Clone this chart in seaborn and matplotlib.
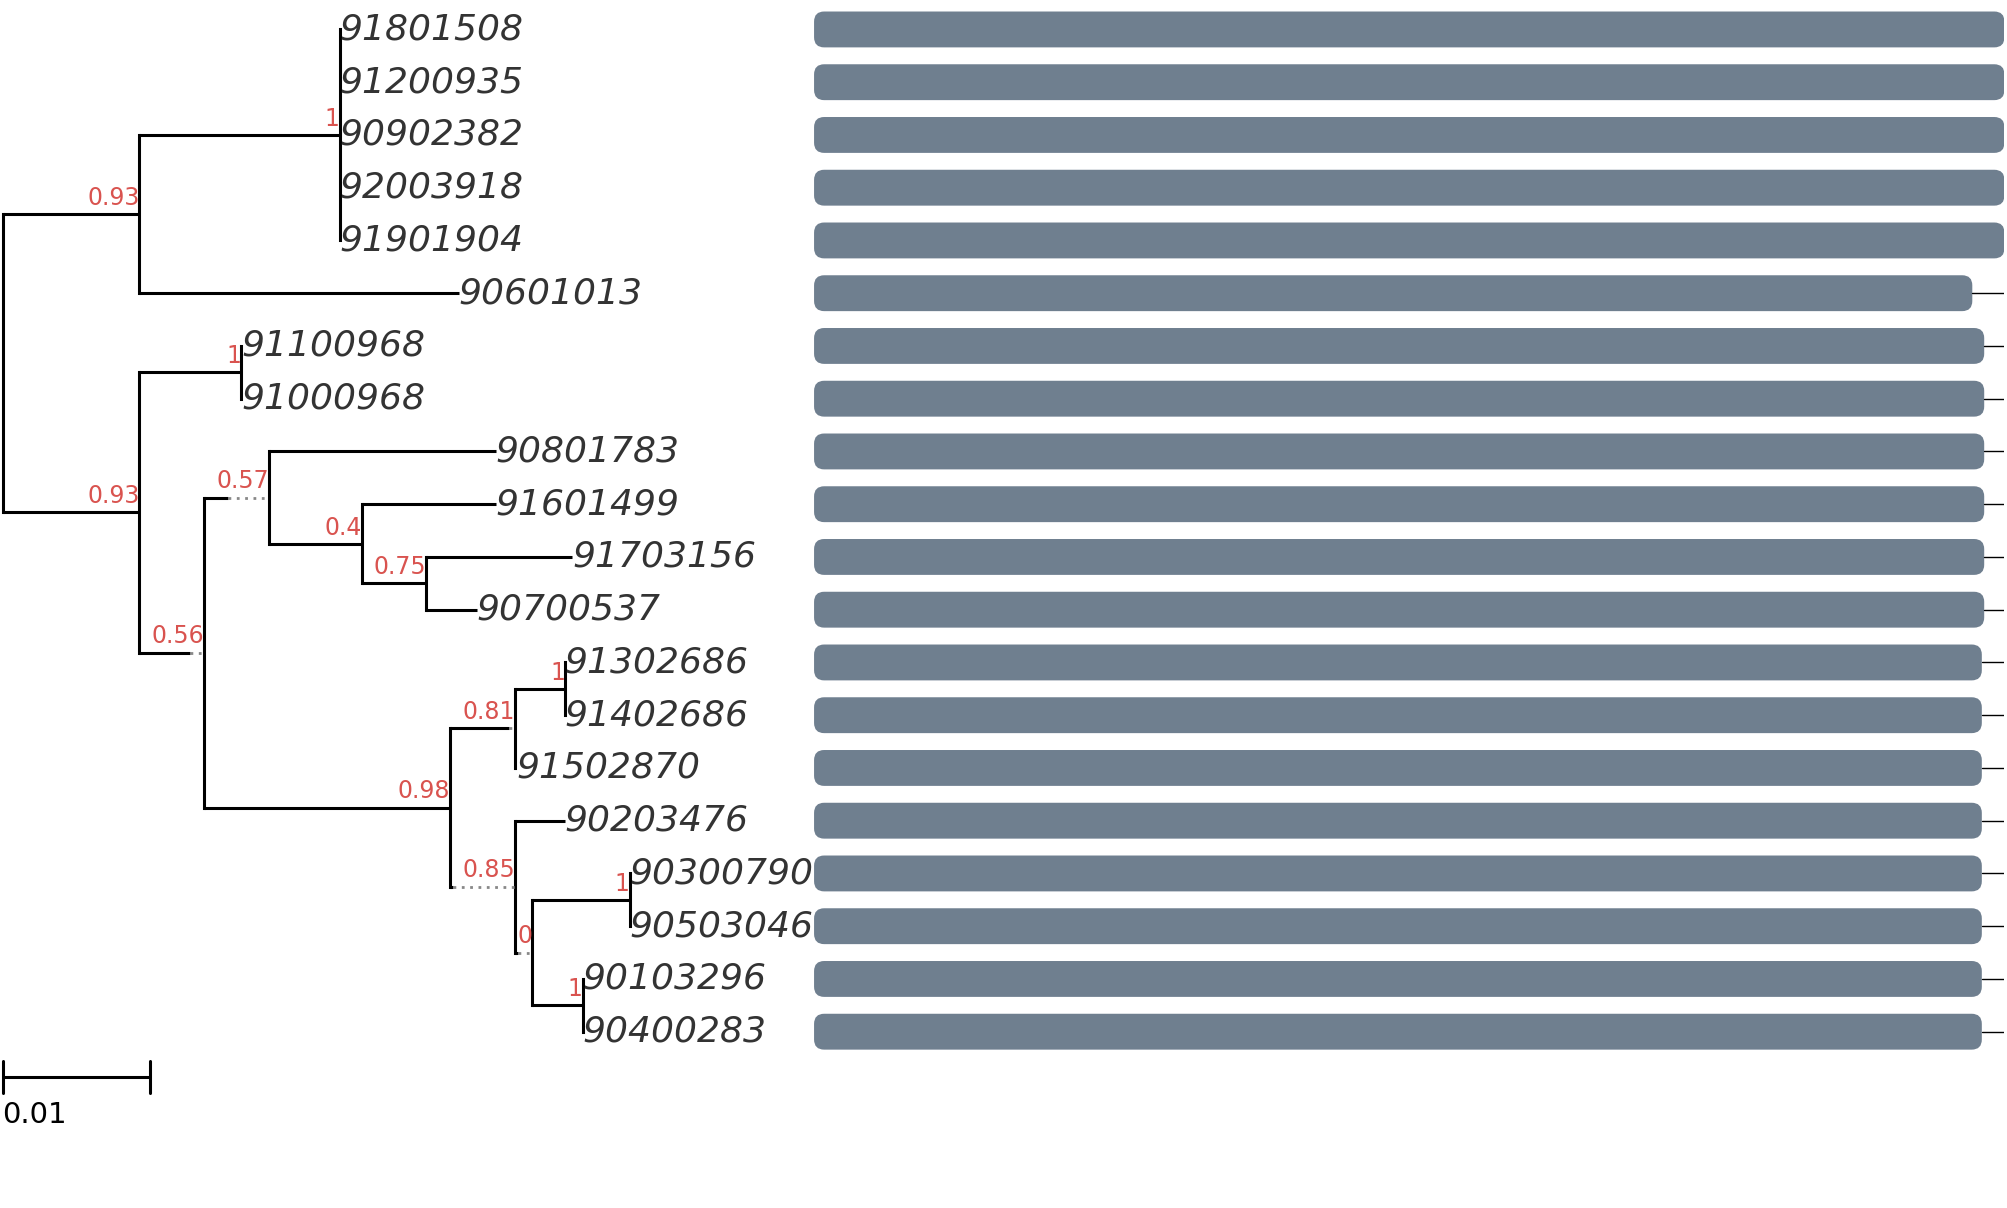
import matplotlib
matplotlib.use("Agg")
import matplotlib.pyplot as plt
from matplotlib.patches import FancyBboxPatch
import seaborn as sns
import pandas as pd

sns.set_theme(style="white")
plt.rcParams['font.family'] = ['DejaVu Sans']

leaves = ["91801508", "91200935", "90902382", "92003918", "91901904", "90601013",
          "91100968", "91000968", "90801783", "91601499", "91703156", "90700537",
          "91302686", "91402686", "91502870", "90203476", "90300790", "90503046",
          "90103296", "90400283"]
# bar lengths (relative)
bar_values = [1.0, 1.0, 1.0, 1.0, 1.0, 0.973, 0.983, 0.983, 0.983, 0.983, 0.983, 0.983,
              0.981, 0.981, 0.981, 0.981, 0.981, 0.981, 0.981, 0.981]

# tree: (name, depth, support, children); leaves are ints (row index) with depth
tree = ("root", 0.0, None, [
    ("A", 0.0093, "0.93", [
        ("A1", 0.0229, "1", [(0, 0.0229), (1, 0.0229), (2, 0.0229), (3, 0.0229), (4, 0.0229)]),
        (5, 0.0310)]),
    ("B", 0.0093, "0.93", [
        ("B1", 0.0162, "1", [(6, 0.0162), (7, 0.0162)]),
        ("C", 0.0137, "0.56", [
            ("D", 0.0181, "0.57", [
                (8, 0.0335),
                ("E", 0.0244, "0.4", [
                    (9, 0.0335),
                    ("F", 0.0288, "0.75", [(10, 0.0387), (11, 0.0322)])])]),
            ("G", 0.0304, "0.98", [
                ("H", 0.0348, "0.81", [
                    ("I", 0.0382, "1", [(12, 0.0382), (13, 0.0382)]),
                    (14, 0.0349)]),
                ("J", 0.0348, "0.85", [
                    (15, 0.0382),
                    ("K", 0.0360, "0", [
                        ("L", 0.0426, "1", [(16, 0.0426), (17, 0.0426)]),
                        ("M", 0.0394, "1", [(18, 0.0394), (19, 0.0394)])])])])])])])
# portion of incoming branch drawn dotted: node -> depth where dotted starts
dotted_from = {"C": 0.0127, "D": 0.0153, "H": 0.0344, "J": 0.0306, "K": 0.0350}

W, H = 20.07, 12.08
fig = plt.figure(figsize=(W, H), dpi=100)
ax = fig.add_axes([0, 0, 1, 1])
ax.set_xlim(-2 / 11500, 1566 / 11500)
ymin, ymax = -23 / 41.2, (943.5 - 23) / 41.2
ax.set_ylim(ymax, ymin)
ax.axis("off")

lw = 2.2
red = "#d9534f"

def draw(node, parent_x):
    if isinstance(node[0], int):
        i, d = node
        ax.plot([parent_x, d], [i, i], color="black", lw=lw, solid_capstyle="butt")
        ax.text(d, i, leaves[i], fontsize=26, style="italic", color="#333333",
                ha="left", va="center")
        return i
    name, d, sup, ch = node
    ys = [draw(c, d) for c in ch]
    y = (ys[0] + ys[-1]) / 2
    ax.plot([d, d], [ys[0], ys[-1]], color="black", lw=lw, solid_capstyle="projecting")
    if parent_x is not None:
        if name in dotted_from:
            s = dotted_from[name]
            ax.plot([parent_x, s], [y, y], color="black", lw=lw, solid_capstyle="butt")
            ax.plot([s, d], [y, y], color="#888888", lw=2, ls=(0, (1, 2)))
        else:
            ax.plot([parent_x, d], [y, y], color="black", lw=lw, solid_capstyle="butt")
    if sup is not None:
        ax.text(d, y - 0.08, sup, fontsize=17, color=red, ha="right", va="bottom")
    return y

draw(tree, None)

# scale bar
sb_y = (841 - 23) / 41.2
ax.plot([0, 0.01], [sb_y, sb_y], color="black", lw=lw)
ax.plot([0, 0], [sb_y - 0.3, sb_y + 0.3], color="black", lw=lw)
ax.plot([0.01, 0.01], [sb_y - 0.3, sb_y + 0.3], color="black", lw=lw)
ax.text(0, sb_y + 0.45, "0.01", fontsize=21, color="black", ha="left", va="top")

# bars
bx0, bx1 = 636 / 1568, 1566 / 1568
bax = fig.add_axes([bx0, 0, bx1 - bx0, 1])
df = pd.DataFrame({"leaf": leaves, "value": bar_values})
sns.barplot(data=df, x="value", y="leaf", orient="h", color="#6f7f8f", saturation=1,
            width=0.68, ax=bax)
bax.set_xlim(0, 1)
bax.set_ylim(ymax, ymin)
bax.axis("off")
aspect = (1 / 41.2) / (1 / 930)
for p in list(bax.patches):
    x, y0 = p.get_x(), p.get_y()
    w, h = p.get_width(), p.get_height()
    p.remove()
    bax.add_patch(FancyBboxPatch((x, y0), w, h,
                                 boxstyle="round,pad=0,rounding_size=0.0085",
                                 mutation_aspect=aspect, fc="#6f7f8f", ec="none"))
for i, v in enumerate(bar_values):
    if v < 1:
        bax.plot([v, 1], [i, i], color="black", lw=1)

fig.savefig("out.png", dpi=100)
